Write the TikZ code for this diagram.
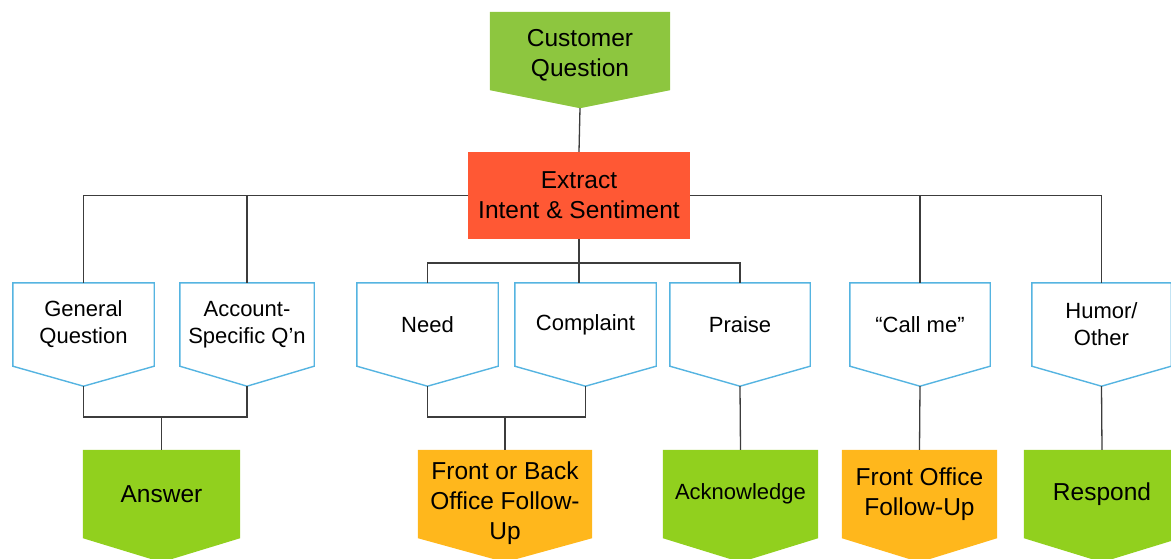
\documentclass[tikz,border=0pt]{standalone}
\usepackage{fontspec}
\setmainfont{Liberation Sans}
\usetikzlibrary{backgrounds}

\definecolor{topgreen}{RGB}{141,198,63}
\definecolor{actgreen}{RGB}{145,208,30}
\definecolor{actorange}{RGB}{255,183,28}
\definecolor{extractred}{RGB}{255,88,52}
\definecolor{catblue}{RGB}{85,180,225}
\definecolor{wire}{RGB}{60,60,60}

\tikzset{
  bigtext/.style={font=\fontsize{24.5}{30}\selectfont},
  smalltext/.style={font=\fontsize{22}{27}\selectfont},
  boxbase/.style={inner sep=0pt, align=center, text=black},
  catbox/.style={boxbase, smalltext, minimum width=#1, minimum height=83pt},
  actbox/.style={boxbase, bigtext, minimum width=#1, minimum height=88pt},
  catline/.style={draw=catblue, line width=1.4pt, fill=white},
  wirestyle/.style={draw=wire, line width=1.3pt},
}

% outline of a downward-pointing pentagon around a named node:
% #1 path style, #2 node, #3 rise of the side corners above south, #4 tip depth below south
\newcommand\pentoutline[4]{%
  \path[#1] (#2.north west) -- (#2.north east) -- ([yshift=#3]#2.south east)
    -- ([yshift=-#4]#2.south) -- ([yshift=#3]#2.south west) -- cycle;}

\begin{document}
\begin{tikzpicture}[x=1pt,y=-1pt]
\useasboundingbox (0,0) rectangle (1171,558);

% top of the tree
\node[boxbase, bigtext, minimum width=180pt, minimum height=86pt] (cq) at (580,55) {Customer\\Question};
\coordinate (cq-tip) at (580,108);
\node[boxbase, bigtext, fill=extractred, minimum width=222pt, minimum height=87pt] (ex) at (579,195.5) {Extract\\Intent \& Sentiment};

% categories
\node[catbox=141pt] (gq) at (83.5,324.5) {General\\Question};
\node[catbox=134pt] (aq) at (247,324.5) {Account-\\Specific Q'n};
\node[catbox=141pt] (nd) at (427.5,324.5) {Need};
\node[catbox=141pt] (cp) at (585.5,324.5) {Complaint};
\node[catbox=140pt] (pr) at (740,324.5) {Praise};
\node[catbox=140pt] (cm) at (920,324.5) {“Call me”};
\node[catbox=139pt] (hu) at (1101.5,324.5) {Humor/\\Other};
\foreach \n in {gq,aq,nd,cp,pr,cm,hu}{\coordinate (\n-tip) at ([yshift=-20pt]\n.south);}

% actions
\node[actbox=157pt] (an) at (161.5,494) {Answer};
\node[actbox=174pt, minimum height=106pt] (fb) at (505,503) {Front or Back\\Office Follow-\\Up};
\node[actbox=155pt, smalltext] (ak) at (740.5,494) {Acknowledge};
\node[actbox=155pt] (fo) at (919.5,494) {Front Office\\Follow-Up};
\node[actbox=156pt] (rs) at (1102,494) {Respond};

% shape outlines behind the text
\begin{scope}[on background layer]
  \pentoutline{fill=topgreen}{cq}{8pt}{10pt}
  \foreach \n in {gq,aq,nd,cp,pr,cm,hu}{\pentoutline{catline}{\n}{0pt}{20pt}}
  \pentoutline{fill=actgreen}{an}{0pt}{24pt}
  \pentoutline{fill=actorange}{fb}{18pt}{6pt}
  \pentoutline{fill=actgreen}{ak}{0pt}{24pt}
  \pentoutline{fill=actorange}{fo}{0pt}{24pt}
  \pentoutline{fill=actgreen}{rs}{0pt}{24pt}
\end{scope}

% connectors
\coordinate (mid) at (579,263);
\coordinate (ja) at (161.5,417);
\coordinate (jb) at (505,417);
\begin{scope}[wirestyle]
  \draw (cq-tip) -- (ex.north);
  \draw (gq.north) |- (ex.west);
  \draw (aq.north) -- (aq.north |- ex.west);
  \draw (hu.north) |- (ex.east);
  \draw (cm.north) -- (cm.north |- ex.east);
  \draw (ex.south) -- (ex.south |- cp.north);
  \draw (nd.north) |- (mid) -| (pr.north);
  \draw (gq-tip) |- (ja) -| (aq-tip);
  \draw (ja) -- (an.north);
  \draw (nd-tip) |- (jb) -| (cp-tip);
  \draw (jb) -- (fb.north);
  \draw (pr-tip) -- (ak.north);
  \draw (cm-tip) -- (fo.north);
  \draw (hu-tip) -- (rs.north);
\end{scope}
\end{tikzpicture}
\end{document}
